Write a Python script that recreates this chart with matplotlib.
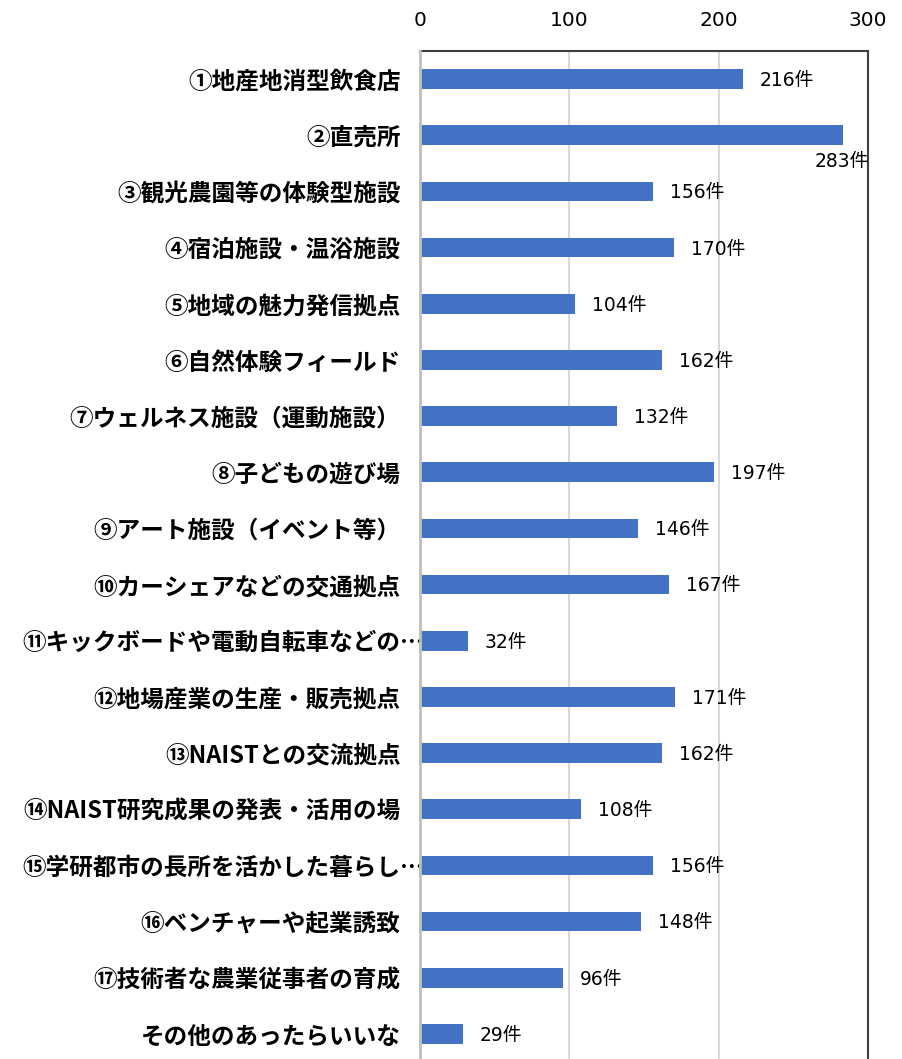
import numpy as np
import matplotlib
matplotlib.use("Agg")
import matplotlib.pyplot as plt

plt.rcParams['font.family'] = ['Noto Sans CJK JP', 'DejaVu Sans']

# data
categories = [
    "①地産地消型飲食店",
    "②直売所",
    "③観光農園等の体験型施設",
    "④宿泊施設・温浴施設",
    "⑤地域の魅力発信拠点",
    "⑥自然体験フィールド",
    "⑦ウェルネス施設（運動施設）",
    "⑧子どもの遊び場",
    "⑨アート施設（イベント等）",
    "⑩カーシェアなどの交通拠点",
    "⑪キックボードや電動自転車などの…",
    "⑫地場産業の生産・販売拠点",
    "⑬NAISTとの交流拠点",
    "⑭NAIST研究成果の発表・活用の場",
    "⑮学研都市の長所を活かした暮らし…",
    "⑯ベンチャーや起業誘致",
    "⑰技術者な農業従事者の育成",
    "その他のあったらいいな",
]
counts = [216, 283, 156, 170, 104, 162, 132, 197, 146, 167,
          32, 171, 162, 108, 156, 148, 96, 29]
x_ticks = [0, 100, 200, 300]
unit = "件"

BAR_COLOR = "#4472C4"
X_MAX = 300
NUM_FONT = ['DejaVu Sans', 'Noto Sans CJK JP']   # wider digits, CJK fallback

fig = plt.figure(figsize=(9.03, 10.59), dpi=100)
ax = fig.add_axes([0.4651, -0.0028, 0.4961, 0.9546])

y = np.arange(len(categories))
ax.barh(y, counts, height=0.35, color=BAR_COLOR, zorder=3)

ax.set_xlim(0, X_MAX)
ax.set_ylim(len(categories) - 0.5, -0.5)
ax.set_xticks(x_ticks)
ax.set_xticklabels([str(t) for t in x_ticks], family=NUM_FONT, fontsize=14.5)
ax.xaxis.tick_top()
ax.tick_params(axis="x", length=0, pad=15, colors="#000000")
ax.set_yticks(y)
ax.set_yticklabels(categories, fontsize=17, fontweight="bold")
ax.tick_params(axis="y", length=0, pad=14)
# truncated labels run past the axis line a little
for i, lab in enumerate(categories):
    if lab.endswith("…"):
        ax.yaxis.get_major_ticks()[i].set_pad(-3)

ax.grid(axis="x", color="#D9D9D9", linewidth=1.5, zorder=0)
ax.set_axisbelow(True)

ax.spines["left"].set_color("#BFBFBF")
ax.spines["left"].set_linewidth(2)
ax.spines["left"].set_zorder(4)
ax.spines["top"].set_color("#404040")
ax.spines["top"].set_linewidth(1.5)
ax.spines["right"].set_color("#404040")
ax.spines["right"].set_linewidth(1.5)
ax.spines["bottom"].set_visible(False)

for i, v in enumerate(counts):
    if v > X_MAX * 0.85:
        # label would not fit beside the bar, so it goes under the bar end
        ax.annotate(f"{v}{unit}", xy=(X_MAX, i), xytext=(1, -19),
                    textcoords="offset points", ha="right", va="center",
                    fontsize=13.5, family=NUM_FONT, color="#000000")
    else:
        ax.annotate(f"{v}{unit}", xy=(v, i), xytext=(12, -1),
                    textcoords="offset points", ha="left", va="center",
                    fontsize=13.5, family=NUM_FONT, color="#000000")

fig.savefig("out.png", dpi=100)
